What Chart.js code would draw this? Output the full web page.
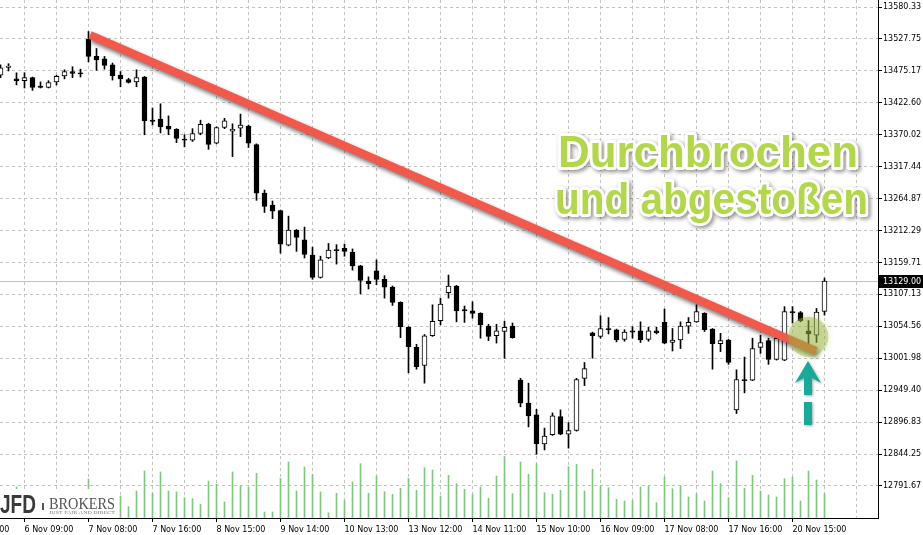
<!DOCTYPE html>
<html>
<head>
<meta charset="utf-8">
<title>Durchbrochen und abgestoßen</title>
<script src="https://cdn.jsdelivr.net/npm/chart.js@4.4.1/dist/chart.umd.min.js"></script>
<style>
    html, body { margin: 0; padding: 0; background: #ffffff; overflow: hidden; }
    canvas { display: block; }
</style>
</head>
<body>
<canvas id="grafico" width="923" height="535"></canvas>
<script>

// ================================
// DATEN (H1-Kerzen, von links nach rechts)
// ================================

const eroeffnung = [
    13468,13481,13462,13459,13464,13450,13448,13457,13467,13474,
    13472,13527,13499,13495,13485,13468,13461,13457,13465,13394,
    13396,13384,13379,13363,13361,13372,13387,13356,13382,13376,
    13381,13384,13354,13274,13254,13245,13188,13213,13197,13172,
    13135,13167,13181,13183,13177,13154,13129,13146,13132,13119,
    13094,13053,13020,12990,13039,13064,13110,13121,13082,13080,
    13076,13055,13039,13046,13055,12966,12928,12909,12861,12876,
    12906,12877,12883,12969,13044,13038,13051,13049,13033,13047,
    13047,13033,13047,13061,13028,13032,13055,13062,13076,13050,
    13026,13032,12917,12967,12966,13020,13031,13000,12999,13079,
    13077,13047,13040,13079
];

const hoch = [
    13485,13487,13472,13472,13465,13457,13459,13468,13477,13482,
    13478,13540,13512,13499,13488,13474,13463,13477,13466,13414,
    13421,13401,13380,13370,13380,13394,13389,13383,13397,13388,
    13404,13386,13355,13279,13261,13246,13236,13214,13218,13185,
    13170,13191,13189,13190,13182,13155,13136,13164,13138,13121,
    13095,13054,13025,13041,13090,13101,13139,13122,13088,13095,
    13077,13058,13058,13063,13060,12969,12961,12918,12887,12912,
    12917,12896,12969,12995,13045,13072,13069,13050,13049,13054,
    13062,13053,13053,13083,13051,13062,13069,13090,13077,13051,
    13043,13033,12983,13004,13035,13040,13035,13040,13087,13087,
    13079,13064,13084,13134
];

const tief = [
    13464,13475,13452,13447,13443,13447,13447,13452,13462,13464,
    13465,13490,13476,13478,13460,13449,13455,13449,13370,13386,
    13373,13370,13357,13350,13359,13370,13346,13355,13380,13334,
    13367,13349,13262,13242,13232,13175,13187,13178,13167,13132,
    13134,13166,13157,13170,13147,13108,13116,13123,13101,13089,
    13036,12978,12984,12961,13038,13057,13101,13062,13061,13068,
    13035,13031,13027,13002,13035,12922,12889,12844,12851,12875,
    12876,12854,12882,12957,13002,13035,13042,13029,13030,13035,
    13028,13030,13042,13026,13014,13018,13043,13061,13046,12984,
    13013,12992,12911,12945,12965,13010,12992,12999,12998,13060,
    13062,13025,13028,13073
];

const schluss = [
    13480,13483,13459,13464,13448,13448,13456,13466,13474,13471,
    13470,13499,13493,13484,13467,13462,13456,13464,13393,13392,
    13383,13379,13364,13361,13372,13387,13354,13382,13393,13379,
    13386,13356,13274,13252,13244,13190,13213,13201,13173,13135,
    13164,13180,13179,13178,13154,13130,13125,13132,13119,13094,
    13054,13021,12988,13039,13063,13091,13121,13080,13080,13076,
    13057,13038,13047,13053,13036,12928,12907,12861,12874,12907,
    12877,12883,12967,12985,13039,13051,13049,13032,13045,13045,
    13032,13047,13044,13027,13032,13055,13061,13079,13049,13026,
    13031,12995,12967,12965,13018,13028,13000,13035,13079,13077,
    13064,13042,13078,13129
];

const volumen = [
    360,400,620,440,480,360,400,440,380,420,
    340,780,480,400,440,440,226,540,940,494,
    920,540,520,406,386,274,740,674,320,920,
    640,620,894,120,120,794,1120,540,1020,874,
    520,106,494,360,720,1086,494,840,526,474,
    594,794,554,1006,960,440,854,686,574,474,
    620,394,840,1226,486,1120,874,1086,506,474,
    554,1026,1074,540,974,640,606,374,340,354,
    620,640,306,820,586,640,420,486,340,940,
    686,406,1140,594,854,540,460,420,786,820,
    340,940,760,486
];

const preisTicks = [
    13580.33,13527.75,13475.17,13422.60,13370.02,13317.44,13264.87,13212.29,
    13159.71,13107.13,13054.56,13001.98,12949.40,12896.83,12844.25,12791.67
];

// Kerzen-Index, an dem ein Zeitlabel steht
const zeitPositionen = [-5,3,11,19,27,35,43,51,59,67,75,83,91,99];
const zeitLabels = [
    "6 Nov 01:00","6 Nov 09:00","7 Nov 08:00","7 Nov 16:00","8 Nov 15:00",
    "9 Nov 14:00","10 Nov 13:00","13 Nov 12:00","14 Nov 11:00","15 Nov 10:00",
    "16 Nov 09:00","17 Nov 08:00","17 Nov 16:00","20 Nov 15:00"
];

// Trendlinie und Markierung
const trendX = [11.19, 101.94];
const trendY = [13534.2, 13014.0];
const kreisX = [100.98];
const kreisY = [13037.5];

const letzterKurs = schluss[schluss.length - 1];

// ================================
// HILFSFUNKTIONEN
// ================================

function textInBreite(ctx, text, x, y, breite, kontur){
    const w = ctx.measureText(text).width;
    ctx.save();
    ctx.translate(x, y);
    ctx.scale(breite / w, 1);
    if (kontur) ctx.strokeText(text, 0, 0);
    else ctx.fillText(text, 0, 0);
    ctx.restore();
}

const gitterPositionen = [];
for (let k = -5; k <= 107; k += 4) gitterPositionen.push(k);

// ================================
// ZUSATZ-ZEICHNUNGEN
// ================================

const zusatz = {

    id: "zusatz",

    beforeDatasetsDraw(chart){
        const {ctx, chartArea, scales} = chart;
        const y = Math.round(scales.y.getPixelForValue(letzterKurs)) + 0.5;
        ctx.save();
        ctx.strokeStyle = "#c0c0c0";
        ctx.lineWidth = 1;
        ctx.beginPath();
        ctx.moveTo(chartArea.left, y);
        ctx.lineTo(chartArea.right, y);
        ctx.stroke();
        ctx.restore();
    },

    beforeDatasetDraw(chart, args){
        const ctx = chart.ctx;
        if (args.meta.type === "line"){
            ctx.save();
            ctx.shadowColor = "rgba(0,0,0,0.55)";
            ctx.shadowBlur = 4;
            ctx.shadowOffsetX = 2;
            ctx.shadowOffsetY = 3;
        }
        if (args.meta.type === "bubble"){
            ctx.save();
            ctx.shadowColor = "rgba(150,178,60,0.6)";
            ctx.shadowBlur = 6;
        }
    },

    afterDatasetDraw(chart, args){
        if (args.meta.type === "line" || args.meta.type === "bubble"){
            chart.ctx.restore();
        }
    },

    afterDraw(chart){
        const {ctx, chartArea, scales} = chart;

        // Pfeil unter dem Kreis
        const ax = Math.round(scales.x.getPixelForValue(kreisX[0]));
        const ky = scales.y.getPixelForValue(kreisY[0]);
        const top = Math.round(ky + 24);
        ctx.save();
        ctx.shadowColor = "rgba(0,0,0,0.35)";
        ctx.shadowBlur = 3;
        ctx.shadowOffsetX = 1;
        ctx.shadowOffsetY = 1;
        ctx.fillStyle = "#17a999";
        ctx.beginPath();
        ctx.moveTo(ax, top);
        ctx.lineTo(ax + 13, top + 22);
        ctx.lineTo(ax + 4, top + 17);
        ctx.lineTo(ax + 4, top + 34);
        ctx.lineTo(ax - 4, top + 34);
        ctx.lineTo(ax - 4, top + 17);
        ctx.lineTo(ax - 13, top + 22);
        ctx.closePath();
        ctx.fill();
        ctx.fillRect(ax - 4, top + 41, 8, 23);
        ctx.restore();

        // Überschrift
        const zeilen = [
            ["Durchbrochen", 558, 167, 300],
            ["und abgestoßen", 555, 214, 313]
        ];
        ctx.save();
        ctx.font = 'bold 44px "Liberation Sans"';
        ctx.lineJoin = "round";
        zeilen.forEach(z => {
            ctx.shadowColor = "rgba(0,0,0,0.45)";
            ctx.shadowBlur = 4;
            ctx.shadowOffsetX = 2;
            ctx.shadowOffsetY = 2;
            ctx.strokeStyle = "#ffffff";
            ctx.lineWidth = 6;
            textInBreite(ctx, z[0], z[1], z[2], z[3], true);
            ctx.shadowColor = "transparent";
            ctx.fillStyle = "#b2d84a";
            textInBreite(ctx, z[0], z[1], z[2], z[3], false);
        });
        ctx.restore();

        // Logo
        ctx.save();
        ctx.fillStyle = "#ffffff";
        ctx.fillRect(0, 489, 117, chartArea.bottom - 489);
        ctx.fillStyle = "#3a3a3a";
        ctx.font = 'bold 25px "Liberation Sans"';
        textInBreite(ctx, "JFD", 0, 513, 36);
        ctx.fillStyle = "#555555";
        ctx.fillRect(42, 503, 2, 7);
        ctx.fillStyle = "#555555";
        ctx.font = '17px "Liberation Serif"';
        textInBreite(ctx, "BROKERS", 49, 509, 66);
        ctx.fillStyle = "#777777";
        ctx.font = '5px "Liberation Serif"';
        textInBreite(ctx, "JUST FAIR AND DIRECT", 49, 514, 66);
        ctx.restore();

        // aktueller Kurs
        const py = Math.round(scales.y.getPixelForValue(letzterKurs));
        ctx.save();
        ctx.fillStyle = "#000000";
        ctx.fillRect(chartArea.right + 1, py - 6, chart.width - chartArea.right - 1, 13);
        ctx.fillStyle = "#ffffff";
        ctx.font = '8px "DejaVu Sans"';
        ctx.textBaseline = "middle";
        ctx.fillText(letzterKurs.toFixed(2), chartArea.right + 5, py + 1);
        ctx.restore();
    }
};

// ================================
// DIAGRAMM
// ================================

Chart.defaults.font.family = "DejaVu Sans";
Chart.defaults.font.size = 8;
Chart.defaults.color = "#000000";

const ctx = document.getElementById("grafico");

const grafico = new Chart(ctx, {

    type: "bar",

    data: {
        datasets: [
            {
                label: "Volumen",
                data: volumen.map((v, i) => ({x: i, y: v})),
                yAxisID: "yv",
                backgroundColor: "#7cc87c",
                barThickness: 1,
                grouped: false,
                order: 5
            },
            {
                label: "Docht",
                data: tief.map((t, i) => ({x: i, y: [t, hoch[i]]})),
                yAxisID: "y",
                backgroundColor: "#000000",
                barThickness: 1,
                grouped: false,
                order: 4
            },
            {
                label: "Körper",
                data: eroeffnung.map((o, i) => ({x: i, y: [o, schluss[i]]})),
                yAxisID: "y",
                backgroundColor: eroeffnung.map((o, i) => schluss[i] >= o ? "#ffffff" : "#000000"),
                borderColor: "#000000",
                borderWidth: 1,
                borderSkipped: false,
                barThickness: 5,
                grouped: false,
                order: 3
            },
            {
                type: "line",
                label: "Trend",
                data: trendX.map((x, i) => ({x: x, y: trendY[i]})),
                yAxisID: "y",
                borderColor: "#f2594b",
                borderWidth: 8,
                borderCapStyle: "butt",
                pointRadius: 0,
                tension: 0,
                order: 2
            },
            {
                type: "bubble",
                label: "Kreis",
                data: kreisX.map((x, i) => ({x: x, y: kreisY[i], r: 20})),
                yAxisID: "y",
                backgroundColor: "rgba(150,178,60,0.42)",
                borderWidth: 0,
                order: 1
            }
        ]
    },

    options: {
        responsive: false,
        animation: false,
        devicePixelRatio: 1,
        layout: { padding: 0, autoPadding: false },
        plugins: {
            legend: { display: false },
            tooltip: { enabled: false }
        },
        scales: {
            x: {
                type: "linear",
                position: "bottom",
                min: -0.0625,
                max: 109.6875,
                offset: false,
                afterBuildTicks: axis => {
                    axis.ticks = gitterPositionen.map(v => ({value: v}));
                },
                afterFit: axis => {
                    axis.height = 17;
                    axis.paddingLeft = 0;
                    axis.paddingRight = 0;
                },
                ticks: {
                    autoSkip: false,
                    maxRotation: 0,
                    align: "start",
                    padding: 3,
                    callback: v => {
                        const i = zeitPositionen.indexOf(v);
                        return i >= 0 ? zeitLabels[i] : "";
                    }
                },
                grid: {
                    color: "#c2c2c2",
                    offset: false,
                    tickLength: 4,
                    tickColor: c => (c.tick && zeitPositionen.includes(c.tick.value)) ? "#000000" : "rgba(0,0,0,0)"
                },
                border: { display: true, color: "#000000", width: 1, dash: [3, 3] }
            },
            y: {
                type: "linear",
                position: "right",
                min: 12738.98,
                max: 13591.86,
                bounds: "data",
                afterBuildTicks: axis => {
                    axis.ticks = preisTicks.map(v => ({value: v}));
                },
                afterFit: axis => {
                    axis.width = 45;
                    axis.paddingTop = 0;
                    axis.paddingBottom = 0;
                },
                ticks: {
                    padding: 1,
                    callback: v => v.toFixed(2)
                },
                grid: {
                    color: "#c2c2c2",
                    tickLength: 4,
                    tickColor: "#000000"
                },
                border: { display: true, color: "#000000", width: 1, dash: [3, 3] }
            },
            yv: {
                type: "linear",
                display: false,
                min: 0,
                max: 10360
            }
        }
    },

    plugins: [zusatz]
});

</script>
</body>
</html>
